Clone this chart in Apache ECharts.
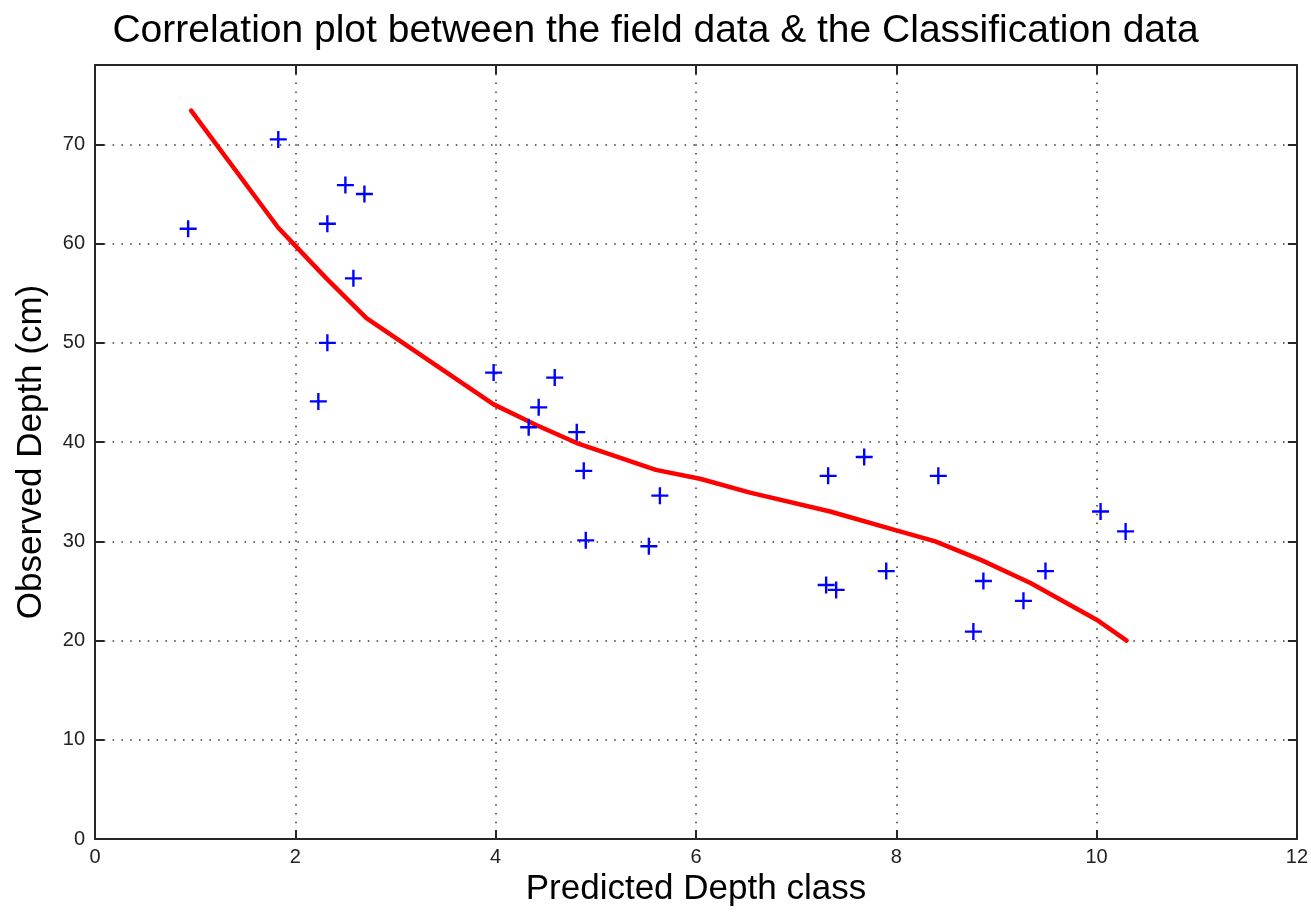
<!DOCTYPE html>
<html>
<head>
<meta charset="utf-8">
<script src="https://cdn.jsdelivr.net/npm/echarts@6/dist/echarts.min.js"></script>
<style>
html,body{margin:0;padding:0;background:#fff;}
#chart{width:1311px;height:918px;}
</style>
</head>
<body>
<div id="chart"></div>
<script>
// Observed points (Predicted Depth class, Observed Depth cm)
const pointX = [0.93, 1.83, 2.50, 2.69, 2.32, 2.58, 2.32, 2.23, 3.98, 4.59, 4.43, 4.33, 4.81, 4.88, 4.90, 5.64, 5.53, 7.32, 7.68, 8.42, 7.30, 7.40, 7.90, 8.87, 8.77, 9.27, 9.49, 10.04, 10.29];
const pointY = [61.5, 70.5, 65.9, 65.0, 62.0, 56.5, 50.0, 44.1, 47.0, 46.5, 43.5, 41.5, 41.0, 37.1, 30.1, 34.6, 29.5, 36.6, 38.5, 36.6, 25.6, 25.1, 27.0, 26.0, 20.9, 24.0, 27.0, 33.0, 31.0];
// Fitted curve
const fitX = [0.96, 1.83, 1.98, 2.31, 2.71, 3.98, 4.41, 4.81, 5.60, 6.04, 6.54, 7.34, 8.00, 8.39, 8.85, 9.34, 10.00, 10.30];
const fitY = [73.4, 61.6, 60.0, 56.5, 52.5, 43.8, 41.7, 39.9, 37.2, 36.3, 34.9, 33.0, 31.1, 30.0, 28.1, 25.8, 22.1, 20.0];
const xTicks = [0, 2, 4, 6, 8, 10, 12];
const yTicks = [0, 10, 20, 30, 40, 50, 60, 70];

const points = pointX.map((x, i) => [x, pointY[i]]);
const fit = fitX.map((x, i) => [x, fitY[i]]);

const chart = echarts.init(document.getElementById('chart'));
const axisLineStyle = { color: '#262626', width: 2 };
const gridDots = { color: '#333', width: 1.5, type: [1.5, 7.3] };
const font = 'Liberation Sans, Arial, Helvetica, sans-serif';
const plus = 'path://M4.3,0H5.7V4.3H10V5.7H5.7V10H4.3V5.7H0V4.3H4.3Z';

chart.setOption({
  animation: false,
  backgroundColor: '#fff',
  title: {
    text: 'Correlation plot between the field data & the Classification data',
    left: 'center',
    top: 7,
    textStyle: { fontFamily: font, fontSize: 39, fontWeight: 'normal', color: '#000' }
  },
  grid: { left: 95, right: 14, top: 65, bottom: 79 },
  xAxis: [
    {
      type: 'value', min: 0, max: 12, interval: 2, position: 'bottom',
      name: 'Predicted Depth class', nameLocation: 'middle', nameGap: 31,
      nameTextStyle: { fontFamily: font, fontSize: 35, color: '#000' },
      axisLine: { show: true, onZero: false, lineStyle: axisLineStyle },
      axisTick: { show: true, inside: true, length: 9, lineStyle: axisLineStyle },
      axisLabel: { fontFamily: font, fontSize: 20, color: '#222', margin: 8,
        formatter: v => xTicks.includes(v) ? String(v) : '' },
      splitLine: { show: true, lineStyle: gridDots }
    },
    {
      type: 'value', min: 0, max: 12, interval: 2, position: 'top',
      axisLine: { show: true, onZero: false, lineStyle: axisLineStyle },
      axisTick: { show: true, inside: true, length: 9, lineStyle: axisLineStyle },
      axisLabel: { show: false }, splitLine: { show: false }
    }
  ],
  yAxis: [
    {
      type: 'value', min: 0, max: 78, interval: 10, position: 'left',
      name: 'Observed Depth (cm)', nameLocation: 'middle', nameGap: 46,
      nameTextStyle: { fontFamily: font, fontSize: 35, color: '#000' },
      axisLine: { show: true, onZero: false, lineStyle: axisLineStyle },
      axisTick: { show: true, inside: true, length: 9, lineStyle: axisLineStyle },
      axisLabel: { fontFamily: font, fontSize: 20, color: '#222', margin: 10, showMaxLabel: false,
        formatter: v => yTicks.includes(v) ? String(v) : '' },
      splitLine: { show: true, lineStyle: gridDots }
    },
    {
      type: 'value', min: 0, max: 78, interval: 10, position: 'right',
      axisLine: { show: true, onZero: false, lineStyle: axisLineStyle },
      axisTick: { show: true, inside: true, length: 9, lineStyle: axisLineStyle },
      axisLabel: { show: false }, splitLine: { show: false }
    }
  ],
  series: [
    {
      type: 'line', data: fit, xAxisIndex: 0, yAxisIndex: 0,
      symbol: 'none', smooth: false, z: 3,
      lineStyle: { color: '#ff0000', width: 4.5, join: 'round', cap: 'round' }
    },
    {
      type: 'scatter', data: points, xAxisIndex: 0, yAxisIndex: 0,
      symbol: plus, symbolSize: 17, z: 4,
      itemStyle: { color: '#0000ff', opacity: 1 }
    }
  ]
});
</script>
</body>
</html>
